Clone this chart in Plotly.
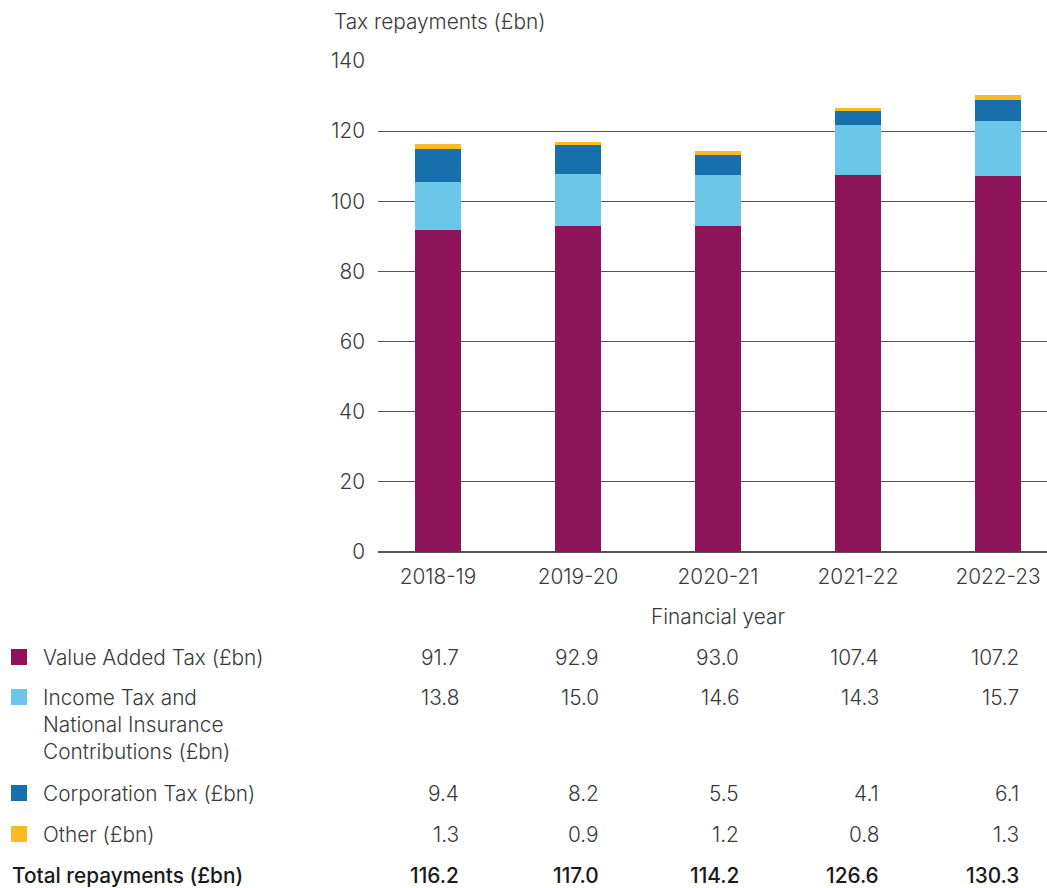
import plotly.graph_objects as go

# Financial years and repayment components (£bn)
years = ["2018-19", "2019-20", "2020-21", "2021-22", "2022-23"]
vat = [91.7, 92.9, 93.0, 107.4, 107.2]
itnic = [13.8, 15.0, 14.6, 14.3, 15.7]
corp_tax = [9.4, 8.2, 5.5, 4.1, 6.1]
other = [1.3, 0.9, 1.2, 0.8, 1.3]
totals = [116.2, 117.0, 114.2, 126.6, 130.3]

series_names = [
    ["Value Added Tax (£bn)"],
    ["Income Tax and", "National Insurance", "Contributions (£bn)"],
    ["Corporation Tax (£bn)"],
    ["Other (£bn)"],
]
series_values = [vat, itnic, corp_tax, other]
colors = ["#8E145A", "#6CC6E8", "#176FAB", "#FABB22"]

y_ticks = [0, 20, 40, 60, 80, 100, 120, 140]

FONT = "Inter, Liberation Sans, Arial, sans-serif"
FS = 20.8
TEXT = "#3a3a3a"
W, H = 1047, 888
M_L, M_R, M_T, M_B = 378, 0, 61, 336
PW, PH = W - M_L - M_R, H - M_T - M_B
BAR_W = 0.33
LINE_H = 27


def px_x(p):
    return (p - M_L) / PW


def px_y(p):
    return (H - M_B - p) / PH


def font(color=TEXT, weight=300):
    return dict(size=FS, color=color, family=FONT, weight=weight)


xs = list(range(len(years)))

fig = go.Figure()
for lines, vals, col in zip(series_names, series_values, colors):
    fig.add_trace(go.Bar(x=xs, y=vals, name=" ".join(lines), marker=dict(color=col, line=dict(width=0)),
                         width=BAR_W, showlegend=False, hoverinfo="skip"))

annotations = []
shapes = []

# y-axis heading
annotations.append(dict(text="Tax repayments (£bn)", x=px_x(332), y=px_y(22), xref="paper", yref="paper",
                        xanchor="left", yanchor="middle", showarrow=False, font=font()))
# x-axis heading
annotations.append(dict(text="Financial year", x=2, y=px_y(616), xref="x", yref="paper",
                        xanchor="center", yanchor="middle", showarrow=False, font=font()))

# data table under the chart
row_y = [657, 697, 793, 834]
for lines, vals, col, ry in zip(series_names, series_values, colors, row_y):
    shapes.append(dict(type="rect", xref="paper", yref="paper",
                       x0=px_x(11), x1=px_x(27), y0=px_y(ry + 8), y1=px_y(ry - 8),
                       fillcolor=col, line=dict(width=0)))
    for k, line in enumerate(lines):
        annotations.append(dict(text=line, x=px_x(41), y=px_y(ry + k * LINE_H), xref="paper", yref="paper",
                                xanchor="left", yanchor="middle", showarrow=False, font=font()))
    for i, v in enumerate(vals):
        annotations.append(dict(text=f"{v:.1f}", x=i + BAR_W / 2, y=px_y(ry), xref="x", yref="paper",
                                xanchor="right", yanchor="middle", showarrow=False, font=font()))

annotations.append(dict(text="Total repayments (£bn)", x=px_x(10), y=px_y(875), xref="paper",
                        yref="paper", xanchor="left", yanchor="middle", showarrow=False,
                        font=font("#1a1a1a", 450)))
for i, v in enumerate(totals):
    annotations.append(dict(text=f"{v:.1f}", x=i + BAR_W / 2, y=px_y(875), xref="x", yref="paper",
                            xanchor="right", yanchor="middle", showarrow=False,
                            font=font("#1a1a1a", 450)))

fig.update_layout(
    barmode="stack",
    width=W, height=H,
    margin=dict(l=M_L, r=M_R, t=M_T, b=M_B, pad=0),
    paper_bgcolor="white", plot_bgcolor="white",
    font=dict(family=FONT, size=FS, color=TEXT),
    xaxis=dict(tickmode="array", tickvals=xs, ticktext=years, range=[-60 / 140, 4 + 49 / 140],
               showgrid=False, zeroline=False, showline=False, ticks="", ticklabelstandoff=10,
               tickfont=font(), fixedrange=True),
    yaxis=dict(range=[0, 140], tickvals=y_ticks, showgrid=True, gridcolor="#555555", gridwidth=1,
               zeroline=True, zerolinecolor="#555555", zerolinewidth=1.5, showline=False,
               ticks="", ticklabelstandoff=12, tickfont=font(), fixedrange=True),
    annotations=annotations,
    shapes=shapes,
    bargap=0,
)

fig.write_html("out.html")
